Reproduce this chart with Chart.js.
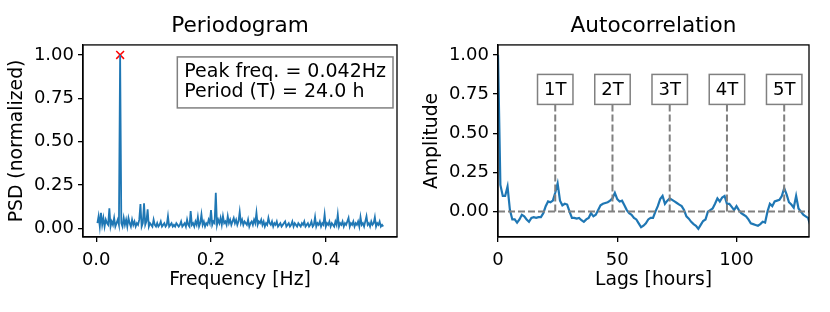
<!DOCTYPE html>
<html>
<head>
<meta charset="utf-8">
<script src="https://cdn.jsdelivr.net/npm/chart.js@4"></script>
<style>
  html, body { margin: 0; padding: 0; background: #fff; }
  .panel { position: absolute; top: 0; width: 415px; height: 312px; }
</style>
</head>
<body>
<div class="panel" style="left:0"><canvas id="psdChart" width="415" height="312"></canvas></div>
<div class="panel" style="left:415px"><canvas id="acfChart" width="415" height="312"></canvas></div>
<script>
// Periodogram + autocorrelation of an hourly series
const nSamples = 480;
// normalized PSD, one value per frequency bin k/480, k = 1..240
const psdValues = [
  0.03, 0.07, 0.01, 0.09, 0.02, 0.06, 0.01, 0.05, 0.03, 0.02,
  0.115, 0.01, 0.04, 0.02, 0.06, 0.01, 0.03, 0.05, 0.02, 1.00,
  0.03, 0.01, 0.06, 0.02, 0.05, 0.01, 0.06, 0.03, 0.01, 0.05,
  0.02, 0.04, 0.01, 0.03, 0.02, 0.05, 0.14, 0.01, 0.03, 0.145,
  0.02, 0.04, 0.11, 0.01, 0.03, 0.02, 0.01, 0.05, 0.02, 0.01,
  0.03, 0.01, 0.02, 0.04, 0.01, 0.02, 0.03, 0.01, 0.02, 0.07,
  0.01, 0.02, 0.03, 0.01, 0.02, 0.01, 0.03, 0.02, 0.01, 0.02,
  0.04, 0.01, 0.02, 0.03, 0.01, 0.05, 0.02, 0.01, 0.10, 0.02,
  0.03, 0.01, 0.04, 0.02, 0.065, 0.01, 0.03, 0.08, 0.02, 0.04,
  0.01, 0.03, 0.02, 0.05, 0.03, 0.105, 0.02, 0.04, 0.03, 0.205,
  0.02, 0.05, 0.03, 0.06, 0.02, 0.07, 0.03, 0.04, 0.02, 0.07,
  0.03, 0.05, 0.02, 0.04, 0.06, 0.03, 0.05, 0.02, 0.04, 0.095,
  0.03, 0.05, 0.02, 0.04, 0.03, 0.02, 0.05, 0.01, 0.03, 0.04,
  0.02, 0.05, 0.03, 0.09, 0.02, 0.04, 0.03, 0.05, 0.02, 0.04,
  0.01, 0.03, 0.02, 0.06, 0.03, 0.02, 0.04, 0.01, 0.03, 0.02,
  0.04, 0.01, 0.02, 0.03, 0.01, 0.02, 0.03, 0.04, 0.01, 0.02,
  0.03, 0.01, 0.02, 0.04, 0.01, 0.03, 0.02, 0.01, 0.03, 0.02,
  0.01, 0.03, 0.02, 0.04, 0.01, 0.02, 0.03, 0.01, 0.02, 0.04,
  0.01, 0.02, 0.065, 0.01, 0.03, 0.02, 0.04, 0.01, 0.03, 0.02,
  0.08, 0.01, 0.03, 0.02, 0.04, 0.01, 0.03, 0.02, 0.01, 0.04,
  0.02, 0.08, 0.01, 0.03, 0.02, 0.04, 0.01, 0.03, 0.02, 0.04,
  0.06, 0.01, 0.03, 0.02, 0.04, 0.01, 0.03, 0.02, 0.04, 0.01,
  0.065, 0.02, 0.03, 0.01, 0.04, 0.07, 0.02, 0.03, 0.01, 0.04,
  0.02, 0.03, 0.065, 0.01, 0.03, 0.02, 0.04, 0.01, 0.02, 0.01
];
const peakFreq = 0.0417;
const infoLines = ['Peak freq. = 0.042Hz', 'Period (T) = 24.0 h'];

// autocorrelation, one value per hourly lag starting at 0
const acfValues = [
  1.00, 0.17, 0.10, 0.10, 0.16, 0.01, -0.05, -0.05, -0.07, -0.05,
  -0.02, -0.03, -0.05, -0.065, -0.04, -0.035, -0.04, -0.035, -0.035, -0.01,
  0.035, 0.065, 0.06, 0.07, 0.12, 0.18, 0.07, 0.04, 0.05, 0.045,
  0.00, -0.04, -0.04, -0.045, -0.04, -0.055, -0.065, -0.05, -0.04, -0.01,
  -0.03, -0.02, 0.01, 0.04, 0.05, 0.055, 0.06, 0.07, 0.085, 0.12,
  0.08, 0.065, 0.07, 0.04, 0.01, -0.01, -0.02, -0.04, -0.05, -0.075,
  -0.10, -0.09, -0.075, -0.05, -0.04, -0.04, 0.00, 0.035, 0.08, 0.10,
  0.05, 0.07, 0.085, 0.075, 0.065, 0.055, 0.045, 0.035, 0.01, -0.03,
  -0.045, -0.065, -0.08, -0.09, -0.11, -0.085, -0.06, -0.05, 0.00, 0.01,
  0.02, 0.05, 0.085, 0.065, 0.09, 0.10, 0.05, 0.05, 0.03, 0.01,
  0.035, 0.01, -0.01, -0.02, -0.03, -0.05, -0.075, -0.08, -0.085, -0.09,
  -0.08, -0.065, -0.07, 0.00, 0.05, 0.035, 0.065, 0.07, 0.075, 0.10,
  0.15, 0.11, 0.06, 0.045, 0.025, 0.10, 0.02, 0.00, -0.02, -0.03,
  -0.04, -0.09
];
const periodLags = [24, 48, 72, 96, 120];
const periodLabels = ['1T', '2T', '3T', '4T', '5T'];

const psdXTicks = [0.0, 0.2, 0.4];
const unitYTicks = [0.00, 0.25, 0.50, 0.75, 1.00];
const acfXTicks = [0, 50, 100];

const BLUE = '#1f77b4';
const GRAY = '#808080';
const FONT = 'DejaVu Sans';
Chart.defaults.font.family = FONT;
Chart.defaults.color = '#000';

function makeAxis(axis, min, max, tickVals, digits, title) {
  const isX = axis === 'x';
  return {
    type: 'linear', min: min, max: max,
    afterBuildTicks: s => { s.ticks = tickVals.map(v => ({ value: v })); },
    afterFit: s => { if (isX) s.height = 75; else s.width = 83; },
    ticks: {
      autoSkip: false, maxRotation: 0, padding: isX ? 8 : 4,
      font: { size: 18 }, color: '#000',
      callback: v => Number(v).toFixed(digits)
    },
    grid: { drawOnChartArea: false, drawTicks: true, tickLength: 5, color: '#000', lineWidth: 1.3 },
    border: { display: true, color: '#000', width: 1.3 },
    title: {
      display: true, text: title, font: { size: 18.8 }, color: '#000',
      padding: isX ? { top: 0, bottom: 21 } : { top: 6, bottom: 0 }
    }
  };
}

// matplotlib-like frame round the plot area
const framePlugin = {
  id: 'frame',
  afterDraw(chart) {
    const { ctx, chartArea: a } = chart;
    ctx.save();
    ctx.strokeStyle = '#000';
    ctx.lineWidth = 1.3;
    ctx.strokeRect(a.left, a.top, a.right - a.left, a.bottom - a.top);
    ctx.restore();
  }
};

const infoBoxPlugin = {
  id: 'infoBox',
  afterDraw(chart) {
    const { ctx, chartArea: a } = chart;
    ctx.save();
    ctx.font = '19px "' + FONT + '"';
    const w = Math.max(...infoLines.map(t => ctx.measureText(t).width)) + 14;
    const h = 51;
    const x = a.right - 4 - w, y = a.top + 12;
    ctx.fillStyle = '#fff';
    ctx.fillRect(x, y, w, h);
    ctx.strokeStyle = GRAY;
    ctx.lineWidth = 1.5;
    ctx.strokeRect(x, y, w, h);
    ctx.fillStyle = '#000';
    ctx.textBaseline = 'middle';
    infoLines.forEach((t, i) => ctx.fillText(t, x + 7, y + 15 + i * 20.5));
    ctx.restore();
  }
};

const periodMarksPlugin = {
  id: 'periodMarks',
  afterDatasetsDraw(chart) {
    const { ctx, chartArea: a, scales: { x, y } } = chart;
    ctx.save();
    ctx.beginPath();
    ctx.rect(a.left, a.top, a.right - a.left, a.bottom - a.top);
    ctx.clip();
    ctx.strokeStyle = GRAY;
    ctx.lineWidth = 2;
    ctx.setLineDash([7, 3]);
    const y0 = y.getPixelForValue(0);
    ctx.beginPath();
    ctx.moveTo(a.left, y0);
    ctx.lineTo(a.right, y0);
    ctx.stroke();
    const yBox = y.getPixelForValue(0.78);
    periodLags.forEach(l => {
      const px = x.getPixelForValue(l);
      ctx.beginPath();
      ctx.moveTo(px, y0);
      ctx.lineTo(px, yBox);
      ctx.stroke();
    });
    ctx.setLineDash([]);
    ctx.font = '18px "' + FONT + '"';
    ctx.textAlign = 'center';
    ctx.textBaseline = 'middle';
    periodLags.forEach((l, i) => {
      const px = x.getPixelForValue(l);
      const w = ctx.measureText(periodLabels[i]).width + 13, h = 30;
      ctx.fillStyle = '#fff';
      ctx.fillRect(px - w / 2, yBox - h / 2, w, h);
      ctx.strokeStyle = GRAY;
      ctx.lineWidth = 1.5;
      ctx.strokeRect(px - w / 2, yBox - h / 2, w, h);
      ctx.fillStyle = '#000';
      ctx.fillText(periodLabels[i], px, yBox + 1);
    });
    ctx.restore();
  }
};

function titleOpts(text) {
  return {
    display: true, text: text, fullSize: false, color: '#000',
    font: { size: 21.6, weight: 'normal' },
    padding: { top: 13, bottom: 6 }
  };
}

new Chart(document.getElementById('psdChart'), {
  type: 'line',
  data: {
    datasets: [{
      data: psdValues.map((v, i) => ({ x: (i + 1) / nSamples, y: v })),
      borderColor: BLUE, borderWidth: 1.8, pointRadius: 0, tension: 0
    }, {
      data: [{ x: peakFreq, y: 1.0 }],
      showLine: false, pointStyle: 'crossRot', pointRadius: 5.5,
      borderColor: '#ff0000', pointBorderWidth: 1.5
    }]
  },
  options: {
    responsive: false, animation: false, devicePixelRatio: 1,
    layout: { padding: { top: 0, right: 18, bottom: 0, left: 0 } },
    scales: {
      x: makeAxis('x', -0.023, 0.524, psdXTicks, 1, 'Frequency [Hz]'),
      y: makeAxis('y', -0.05, 1.058, unitYTicks, 2, 'PSD (normalized)')
    },
    plugins: {
      legend: { display: false }, tooltip: { enabled: false },
      title: titleOpts('Periodogram')
    }
  },
  plugins: [framePlugin, infoBoxPlugin]
});

new Chart(document.getElementById('acfChart'), {
  type: 'line',
  data: {
    datasets: [{
      data: acfValues.map((v, i) => ({ x: i, y: v })),
      borderColor: BLUE, borderWidth: 2.2, pointRadius: 0, tension: 0
    }]
  },
  options: {
    responsive: false, animation: false, devicePixelRatio: 1,
    layout: { padding: { top: 0, right: 21, bottom: 0, left: 0 } },
    scales: {
      x: makeAxis('x', 0, 130.4, acfXTicks, 0, 'Lags [hours]'),
      y: makeAxis('y', -0.162, 1.064, unitYTicks, 2, 'Amplitude')
    },
    plugins: {
      legend: { display: false }, tooltip: { enabled: false },
      title: titleOpts('Autocorrelation')
    }
  },
  plugins: [framePlugin, periodMarksPlugin]
});
</script>
</body>
</html>
